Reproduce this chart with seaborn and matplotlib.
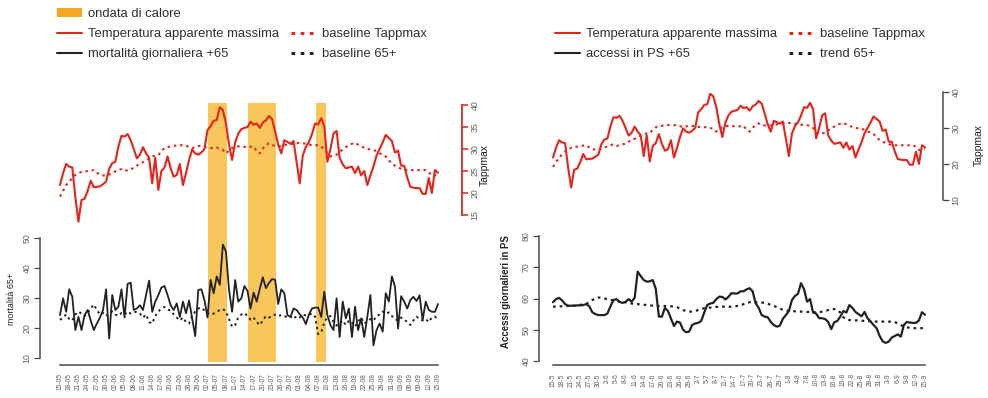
import matplotlib
matplotlib.use("Agg")
import matplotlib.pyplot as plt
import seaborn as sns
from matplotlib.patches import Patch
from matplotlib.lines import Line2D

sns.set_style("white")
plt.rcParams['font.family'] = ['Liberation Sans', 'DejaVu Sans']

# ---------------- data (daily, 15 May -> 15 Sep) ----------------
days = list(range(124))

tapp_max = [21.8, 24.5, 26.6, 26.0, 25.8, 19.0, 13.5, 18.4, 18.7, 20.5,
            22.8, 21.3, 21.4, 21.5, 22.0, 22.6, 25.5, 26.8, 27.1, 30.5,
            33.0, 32.8, 33.4, 32.0, 30.0, 27.9, 28.7, 30.4, 29.0, 28.0,
            22.2, 28.0, 20.7, 25.0, 25.8, 28.3, 25.6, 23.7, 24.1, 26.6,
            21.8, 24.5, 27.5, 29.9, 29.0, 28.7, 29.2, 30.0, 34.3, 35.2,
            36.4, 36.6, 39.5, 38.8, 35.8, 31.0, 27.5, 31.5, 33.5, 34.5,
            34.8, 35.0, 36.2, 35.5, 35.8, 34.8, 36.0, 36.5, 37.5, 36.8,
            34.0, 31.0, 29.0, 32.0, 31.6, 31.2, 31.8, 27.0, 22.2, 28.5,
            30.5, 31.6, 33.4, 35.8, 35.6, 37.0, 35.2, 27.1, 30.0, 33.5,
            34.1, 28.0, 26.5, 25.6, 25.8, 26.0, 24.5, 26.0, 24.0, 25.0,
            21.8, 24.0, 26.0, 28.5, 30.0, 31.5, 33.2, 32.5, 31.8, 29.2,
            29.6, 26.2, 26.2, 23.5, 21.4, 21.2, 21.1, 21.1, 19.8, 19.8,
            23.4, 20.0, 25.2, 24.6]

baseline_tapp = [19.2, 20.5, 21.8, 22.6, 23.4, 24.1, 24.5, 24.8, 24.8, 25.0,
                 25.1, 25.2, 24.6, 24.1, 24.0, 23.9, 24.2, 24.5, 24.9, 25.3,
                 25.4, 25.0, 25.2, 25.5, 25.6, 26.2, 26.7, 27.0, 27.3, 27.8,
                 28.3, 28.5, 28.6, 29.5, 30.2, 30.4, 30.6, 30.7, 30.8, 30.9,
                 30.8, 30.7, 30.5, 30.2, 30.4, 30.7, 30.6, 30.5, 30.3, 30.2,
                 30.2, 30.3, 30.0, 29.8, 29.0, 29.6, 30.2, 30.5, 30.6, 30.5,
                 30.5, 30.4, 30.5, 30.6, 29.5, 29.0, 30.1, 30.8, 31.3, 30.9,
                 30.7, 30.6, 30.7, 30.9, 31.0, 31.1, 31.2, 31.3, 31.4, 31.3,
                 31.2, 31.0, 30.9, 30.9, 30.8, 30.5, 30.0, 29.0, 28.3, 28.5,
                 28.7, 29.3, 29.9, 30.4, 30.9, 31.2, 31.4, 31.0, 30.6, 30.3,
                 30.0, 29.9, 29.8, 29.5, 29.0, 28.8, 28.3, 27.5, 26.6, 26.2,
                 25.8, 25.5, 25.3, 25.2, 25.2, 25.2, 25.2, 25.2, 25.2, 25.2,
                 24.8, 23.9, 24.0, 24.1]

mortalita_65 = [24.3, 29.9, 25.4, 32.9, 30.4, 19.3, 23.7, 19.3, 24.3, 26.0,
                22.5, 19.3, 21.5, 23.5, 26.0, 32.9, 16.5, 31.0, 26.0, 27.1,
                32.9, 23.5, 34.7, 35.1, 26.0, 26.5, 27.6, 26.0, 31.0, 35.8,
                25.4, 28.8, 31.0, 33.5, 34.0, 31.0, 27.6, 26.0, 28.2, 23.7,
                28.8, 24.9, 29.2, 23.2, 17.3, 32.7, 32.9, 29.3, 23.5, 36.0,
                31.6, 37.2, 34.4, 47.8, 45.5, 32.7, 25.4, 36.0, 28.8, 29.9,
                34.0, 32.4, 26.5, 31.8, 28.8, 33.0, 36.9, 33.3, 35.0, 36.3,
                36.1, 28.0, 32.9, 31.6, 24.3, 23.7, 26.5, 26.0, 24.6, 23.5,
                21.3, 24.5, 26.5, 26.8, 26.8, 23.7, 32.1, 24.3, 21.0, 19.3,
                29.9, 17.0, 28.8, 23.2, 26.5, 17.0, 27.1, 19.3, 23.2, 17.0,
                23.7, 31.0, 14.2, 19.3, 21.5, 18.8, 31.6, 28.8, 37.2, 33.8,
                19.8, 30.6, 28.8, 26.5, 29.3, 30.4, 29.0, 30.9, 22.6, 28.8,
                26.0, 25.4, 25.4, 28.0]

baseline_mort_65 = [22.7, 23.5, 24.5, 23.0, 22.5, 24.5, 25.5, 24.8, 24.0, 25.0,
                    26.5, 27.8, 26.0, 24.5, 25.0, 24.0, 25.0, 25.5, 24.5, 24.0,
                    25.0, 24.5, 25.5, 24.8, 25.3, 25.4, 24.8, 23.5, 24.5, 22.0,
                    21.5, 24.0, 25.5, 26.5, 27.0, 26.2, 25.8, 24.5, 23.5, 22.5,
                    23.5, 22.0, 21.5, 24.0, 25.5, 26.5, 26.8, 25.8, 25.0, 24.5,
                    24.8, 25.4, 26.0, 26.3, 25.5, 23.0, 20.4, 21.0, 23.5, 24.5,
                    25.0, 24.0, 22.8, 23.5, 22.0, 21.0, 22.5, 24.0, 23.5, 24.0,
                    24.5, 24.0, 24.3, 24.0, 23.5, 23.8, 23.0, 24.0, 23.5, 24.5,
                    24.2, 24.5, 24.8, 23.8, 18.0, 18.5, 22.0, 23.5, 24.0, 22.0,
                    20.8, 21.5, 22.5, 21.0, 22.5, 21.8, 20.5, 22.0, 23.5, 21.5,
                    22.0, 23.0, 22.5, 24.0, 24.5, 25.5, 24.8, 25.2, 24.0, 23.0,
                    22.5, 23.5, 22.8, 22.0, 21.0, 22.5, 23.8, 23.0, 22.5, 23.0,
                    22.0, 23.5, 23.8, 22.7]

accessi_ps_65 = [58.8, 59.8, 60.2, 59.4, 58.2, 57.7, 57.7, 57.7, 57.8, 57.8,
                 57.9, 58.2, 57.5, 55.6, 55.0, 54.7, 54.7, 54.7, 55.2, 57.5,
                 59.5, 59.8, 58.9, 58.6, 58.9, 59.8, 59.0, 60.2, 68.6, 67.2,
                 65.9, 65.4, 65.5, 65.9, 63.0, 54.2, 54.2, 57.0, 56.0, 53.6,
                 51.2, 52.6, 52.3, 50.0, 49.2, 49.4, 51.5, 52.0, 52.2, 52.8,
                 55.5, 57.9, 58.4, 58.6, 59.8, 60.6, 60.5, 59.7, 60.5, 61.7,
                 61.6, 61.6, 62.3, 62.3, 62.9, 63.3, 62.3, 58.5, 57.0, 54.7,
                 54.2, 54.0, 52.5, 51.5, 51.0, 51.3, 53.5, 54.7, 56.0, 59.5,
                 60.8, 61.5, 64.9, 63.0, 59.0, 59.8, 55.5, 55.2, 53.7, 53.7,
                 53.4, 52.5, 50.2, 52.4, 52.8, 54.2, 56.0, 55.5, 57.9, 57.0,
                 55.7, 55.0, 54.3, 55.7, 53.7, 52.7, 51.5, 50.5, 48.0, 46.3,
                 45.8, 46.2, 47.5, 48.0, 48.5, 47.8, 51.5, 52.5, 52.3, 52.2,
                 52.2, 53.0, 55.6, 54.8]

trend_ps_65 = [57.4, 57.4, 57.5, 57.5, 57.6, 57.6, 57.6, 57.7, 57.8, 58.0,
               58.0, 58.3, 58.8, 59.5, 60.0, 60.3, 60.3, 60.0, 59.8, 59.5,
               59.5, 59.3, 59.0, 58.9, 58.8, 58.6, 58.4, 58.2, 58.2, 58.1,
               58.0, 57.9, 57.8, 57.7, 57.6, 57.6, 57.6, 57.6, 57.5, 57.5,
               57.4, 57.2, 56.8, 56.3, 56.0, 55.8, 55.8, 56.0, 56.3, 56.6,
               56.9, 57.0, 57.1, 57.2, 57.3, 57.4, 57.4, 57.4, 57.3, 57.4,
               57.5, 57.6, 57.8, 58.2, 58.6, 58.8, 58.9, 58.8, 58.8, 58.7,
               58.6, 58.3, 58.0, 57.7, 57.2, 56.8, 56.4, 56.2, 56.0, 56.0,
               55.9, 55.9, 55.8, 55.8, 55.7, 55.7, 55.6, 55.6, 55.6, 55.8,
               56.0, 56.3, 56.6, 56.6, 56.4, 55.5, 54.0, 53.3, 53.1, 53.0,
               53.0, 53.0, 52.9, 52.8, 52.8, 52.7, 52.7, 52.6, 52.6, 52.6,
               52.6, 52.6, 52.6, 52.5, 52.0, 51.5, 51.0, 50.8, 50.6, 50.5,
               50.5, 50.5, 50.5, 50.5]

heatwave_start = [48.2, 61.2, 83.4]
heatwave_end = [54.4, 70.4, 86.6]

tick_days = list(range(0, 124, 3))
labels_left = ['15-05', '18-05', '21-05', '24-05', '27-05', '30-05', '02-06', '05-06',
               '08-06', '11-06', '14-06', '17-06', '20-06', '23-06', '26-06', '29-06',
               '02-07', '05-07', '08-07', '11-07', '14-07', '17-07', '20-07', '23-07',
               '26-07', '29-07', '01-08', '04-08', '07-08', '10-08', '13-08', '16-08',
               '19-08', '22-08', '25-08', '28-08', '31-08', '03-09', '06-09', '09-09',
               '12-09', '15-09']
labels_right = ['15-5', '18-5', '21-5', '24-5', '27-5', '30-5', '2-6', '5-6',
                '8-6', '11-6', '14-6', '17-6', '20-6', '23-6', '26-6', '29-6',
                '2-7', '5-7', '8-7', '11-7', '14-7', '17-7', '20-7', '23-7',
                '26-7', '29-7', '1-8', '4-8', '7-8', '10-8', '13-8', '16-8',
                '19-8', '22-8', '25-8', '28-8', '31-8', '3-9', '6-9', '9-9',
                '12-9', '15-9']

# ---------------- figure ----------------
W, H = 988, 398
fig = plt.figure(figsize=(W / 100, H / 100), dpi=100)


def rect(l, r, t, b):
    return [l / W, 1 - b / H, (r - l) / W, (b - t) / H]


RED = '#E8231B'
DARK = '#222222'
AXC = '#4a4a4a'
GREY = '#606060'
ORANGE = '#F9C65C'
DOT = (0, (1.2, 1.8))
PX = 0.72  # points per pixel


def style_bottom(ax, labels):
    ax.spines['top'].set_visible(False)
    ax.spines['right'].set_visible(False)
    ax.spines['bottom'].set_bounds(0, 123)
    ax.spines['bottom'].set_color(AXC)
    ax.spines['bottom'].set_linewidth(1.1)
    ax.set_xticks(tick_days)
    ax.set_xticklabels(labels, rotation=90, fontsize=4.8, color=GREY)
    ax.tick_params(axis='x', direction='out', length=4, width=0.9, color=AXC, pad=2)


def style_left(ax, offset_px, lo, hi, ticks):
    ax.spines['left'].set_position(('outward', offset_px * PX))
    ax.spines['left'].set_bounds(lo, hi)
    ax.spines['left'].set_color(AXC)
    ax.spines['left'].set_linewidth(1.1)
    ax.set_yticks(ticks)
    ax.tick_params(axis='y', direction='out', length=4, width=0.9, color=AXC,
                   labelsize=6.3, labelcolor=GREY, labelrotation=90, pad=2)
    for t in ax.get_yticklabels():
        t.set_va('center')


def style_right(ax, offset_px, lo, hi, ticks, col, lw):
    for sp in ['top', 'left', 'bottom']:
        ax.spines[sp].set_visible(False)
    ax.spines['right'].set_position(('outward', offset_px * PX))
    ax.spines['right'].set_bounds(lo, hi)
    ax.spines['right'].set_color(col)
    ax.spines['right'].set_linewidth(lw)
    ax.set_yticks(ticks)
    ax.tick_params(axis='y', direction='out', length=4, width=lw * 0.85, color=col,
                   labelsize=6.3, labelcolor=GREY, labelrotation=90, pad=2)
    for t in ax.get_yticklabels():
        t.set_va('center')


# ===== left panel =====
axL = fig.add_axes(rect(55, 443, 100, 365))
axL.set_xlim(-5 / 3.073, 123 + 5 / 3.073)
axL.set_ylim(10 - 7 / 3, 50 + 138 / 3)
for s, e in zip(heatwave_start, heatwave_end):
    axL.axvspan(s, e, ymin=3 / 265, ymax=262 / 265, color=ORANGE, lw=0, zorder=0)
sns.lineplot(x=days, y=mortalita_65, ax=axL, color=DARK, lw=1.3)
sns.lineplot(x=days, y=baseline_mort_65, ax=axL, color=DARK, lw=1.4, linestyle=DOT)
style_bottom(axL, labels_left)
style_left(axL, 15, 10, 50, [10, 20, 30, 40, 50])
axL.set_ylabel('mortalità 65+', fontsize=6.4, color=DARK)
axL.yaxis.set_label_coords((16 - 55) / 388, 0.249)

axLt = axL.twinx()
axLt.set_ylim(15 - 150 / 4.4, 40 + 5 / 4.4)
sns.lineplot(x=days, y=tapp_max, ax=axLt, color=RED, lw=1.5)
sns.lineplot(x=days, y=baseline_tapp, ax=axLt, color=RED, lw=1.5, linestyle=DOT)
style_right(axLt, 19, 15, 40, [15, 20, 25, 30, 35, 40], RED, 1.3)
axLt.set_ylabel('Tappmax', fontsize=7.5, color=DARK)
axLt.yaxis.set_label_coords((480 - 55) / 388, (365 - 165) / 265)

# ===== right panel =====
axR = fig.add_axes(rect(548, 930, 88, 365))
axR.set_xlim(-5 / 3.024, 123 + 5 / 3.024)
axR.set_ylim(40 - 4 / 3.125, 80 + 148 / 3.125)
sns.lineplot(x=days, y=accessi_ps_65, ax=axR, color=DARK, lw=1.6)
sns.lineplot(x=days, y=trend_ps_65, ax=axR, color=DARK, lw=1.6, linestyle=DOT)
style_bottom(axR, labels_right)
style_left(axR, 9, 40, 80, [40, 50, 60, 70, 80])
axR.set_ylabel('Accessi giornalieri in PS', fontsize=6.9, color=DARK, fontweight='bold')
axR.yaxis.set_label_coords((511 - 548) / 382, (365 - 292) / 277)

axRt = axR.twinx()
axRt.set_ylim(10 - 165 / 3.6, 40 + 4 / 3.6)
sns.lineplot(x=days, y=tapp_max, ax=axRt, color=RED, lw=1.5)
sns.lineplot(x=days, y=baseline_tapp, ax=axRt, color=RED, lw=1.5, linestyle=DOT)
style_right(axRt, 13, 10, 40, [10, 20, 30, 40], AXC, 1.1)
axRt.set_ylabel('Tappmax', fontsize=7.5, color=DARK)
axRt.yaxis.set_label_coords((974 - 548) / 382, (365 - 145) / 277)

# ===== legends =====
leg_kw = dict(ncol=2, loc='upper left', frameon=False, fontsize=9.4,
              handlelength=1.95, handletextpad=0.4, columnspacing=0.95,
              labelspacing=0.61, borderpad=0, borderaxespad=0, labelcolor='#303030')
hL = [Patch(facecolor='#F6A623', edgecolor='none'),
      Line2D([], [], color=RED, lw=1.5),
      Line2D([], [], color=DARK, lw=1.5),
      Line2D([], [], color='none'),
      Line2D([], [], color=RED, lw=2.2, linestyle=DOT),
      Line2D([], [], color=DARK, lw=2.2, linestyle=DOT)]
lL = ['ondata di calore', 'Temperatura apparente massima', 'mortalità giornaliera +65',
      '', 'baseline Tappmax', 'baseline 65+']
fig.legend(hL, lL, bbox_to_anchor=(57 / W, 1 - 8 / H), **leg_kw)

hR = [Line2D([], [], color=RED, lw=1.5),
      Line2D([], [], color=DARK, lw=1.5),
      Line2D([], [], color=RED, lw=2.2, linestyle=DOT),
      Line2D([], [], color=DARK, lw=2.2, linestyle=DOT)]
lR = ['Temperatura apparente massima', 'accessi in PS +65', 'baseline Tappmax', 'trend 65+']
fig.legend(hR, lR, bbox_to_anchor=(555 / W, 1 - 28 / H), **leg_kw)

fig.savefig('out.png', dpi=100)
